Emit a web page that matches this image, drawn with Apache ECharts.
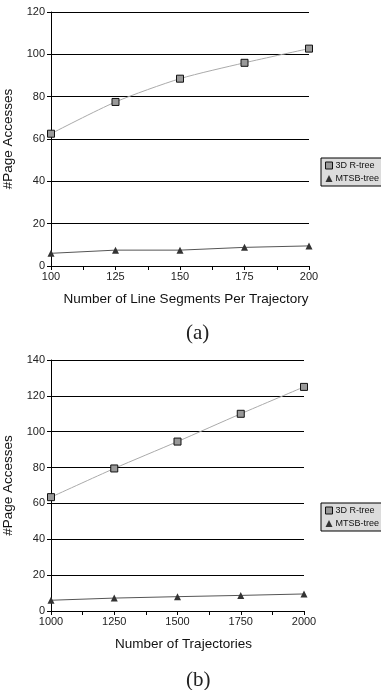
<!DOCTYPE html>
<html>
<head>
    <meta charset="utf-8">
    <script src="https://cdn.jsdelivr.net/npm/echarts@6/dist/echarts.min.js"></script>
    <style>
        html, body { margin: 0; padding: 0; background: #fff; }
        #main { width: 381px; height: 690px; }
    </style>
</head>

<body>
    <div id="main"></div>

    <script type="text/javascript">
        var myChart = echarts.init(document.getElementById('main'));

        // (a) line segments per trajectory
        var segments = [100, 125, 150, 175, 200]
        var rtreeA = [62.5, 77.5, 88.5, 96, 102.7]
        var mtsbA = [6, 7.5, 7.5, 8.8, 9.5]

        // (b) number of trajectories
        var trajectories = [1000, 1250, 1500, 1750, 2000]
        var rtreeB = [63.5, 79.5, 94.5, 110, 125]
        var mtsbB = [6, 7.2, 8, 8.7, 9.5]

        var names = ['3D R-tree', 'MTSB-tree']

        function pairs(xs, ys) {
            return xs.map(function (x, i) { return [x, ys[i]]; });
        }

        var font = 'Liberation Sans, Arial, sans-serif';

        function xAxisFor(idx, min, max, step, title) {
            return {
                gridIndex: idx,
                type: 'value',
                min: min,
                max: max,
                interval: step / 2,
                name: title,
                nameLocation: 'middle',
                nameGap: 26,
                nameTextStyle: { fontFamily: font, fontSize: 13.5, color: '#111', padding: [0, 0, 0, 12] },
                axisLine: { lineStyle: { color: '#000', width: 1 } },
                axisTick: { length: 4, lineStyle: { color: '#000' } },
                splitLine: { show: false },
                axisLabel: {
                    fontFamily: font, fontSize: 11, color: '#222', margin: 5,
                    formatter: function (v) {
                        return ((v - min) % step === 0) ? String(v) : '';
                    }
                }
            };
        }

        function yAxisFor(idx, max) {
            return {
                gridIndex: idx,
                type: 'value',
                min: 0,
                max: max,
                interval: 20,
                name: '#Page Accesses',
                nameLocation: 'middle',
                nameGap: 28,
                nameTextStyle: { fontFamily: font, fontSize: 13.5, color: '#111' },
                axisLine: { show: true, lineStyle: { color: '#000', width: 1 } },
                axisTick: { show: true, length: 4, lineStyle: { color: '#000' } },
                splitLine: { show: true, lineStyle: { color: '#000', width: 1 } },
                axisLabel: { fontFamily: font, fontSize: 11, color: '#222', margin: 6 }
            };
        }

        function seriesFor(idx, xs, r, m) {
            return [{
                name: names[0],
                type: 'line',
                xAxisIndex: idx,
                yAxisIndex: idx,
                data: pairs(xs, r),
                smooth: 0.25,
                symbol: 'rect',
                symbolSize: 7,
                lineStyle: { color: '#aaa', width: 1 },
                itemStyle: { color: '#999', borderColor: '#111', borderWidth: 1 }
            }, {
                name: names[1],
                type: 'line',
                xAxisIndex: idx,
                yAxisIndex: idx,
                data: pairs(xs, m),
                symbol: 'triangle',
                symbolSize: 7,
                lineStyle: { color: '#555', width: 1 },
                itemStyle: { color: '#333' }
            }];
        }

        function legendAt(top) {
            return {
                orient: 'vertical',
                left: 321,
                top: top,
                padding: [3, 5, 3, 4],
                itemGap: 4,
                itemWidth: 7,
                itemHeight: 7,
                backgroundColor: '#dcdcdc',
                borderColor: '#000',
                borderWidth: 1,
                textStyle: { fontFamily: font, fontSize: 9, color: '#111', padding: [0, 0, 0, -2] },
                data: [
                    { name: names[0], icon: 'rect', itemStyle: { color: '#999', borderColor: '#111', borderWidth: 1 } },
                    { name: names[1], icon: 'triangle', itemStyle: { color: '#333' } }
                ]
            };
        }

        myChart.setOption({
            animation: false,
            title: [{
                text: '(a)', left: 181, top: 318,
                textStyle: { fontFamily: 'Liberation Serif, serif', fontSize: 21, fontWeight: 'normal', color: '#222' }
            }, {
                text: '(b)', left: 181, top: 665,
                textStyle: { fontFamily: 'Liberation Serif, serif', fontSize: 21, fontWeight: 'normal', color: '#222' }
            }],
            legend: [legendAt(158), legendAt(503)],
            grid: [
                { left: 51, top: 12, right: 72, bottom: 424, containLabel: false, outerBoundsMode: 'none' },
                { left: 51, top: 360, right: 77, bottom: 79, containLabel: false, outerBoundsMode: 'none' }
            ],
            xAxis: [
                xAxisFor(0, 100, 200, 25, 'Number of Line Segments Per Trajectory'),
                xAxisFor(1, 1000, 2000, 250, 'Number of Trajectories')
            ],
            yAxis: [yAxisFor(0, 120), yAxisFor(1, 140)],
            series: seriesFor(0, segments, rtreeA, mtsbA).concat(seriesFor(1, trajectories, rtreeB, mtsbB))
        });
    </script>
</body>

</html>
